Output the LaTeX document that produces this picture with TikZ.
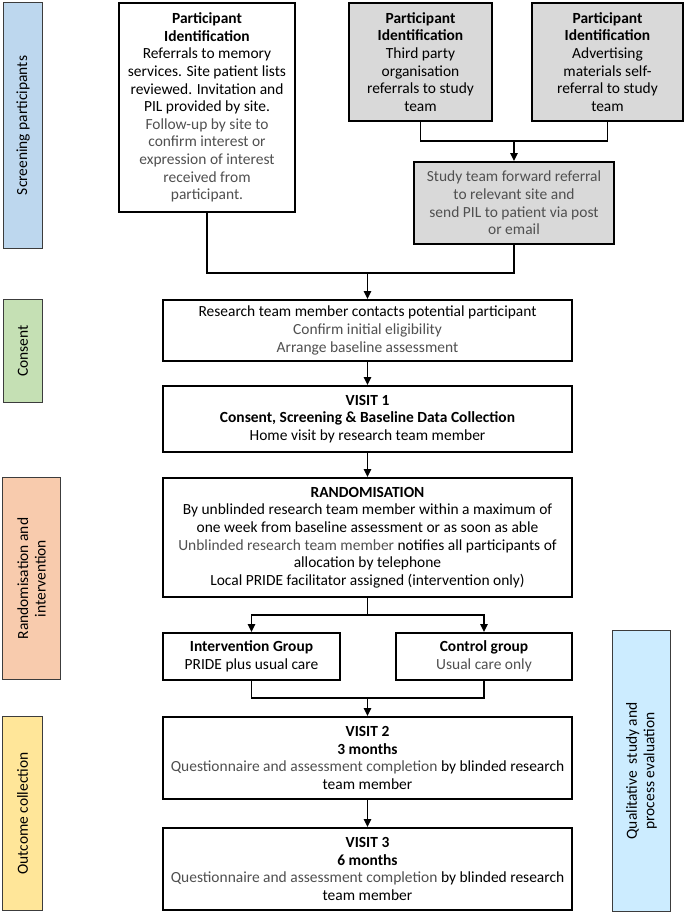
\documentclass[tikz,border=0pt]{standalone}
\usepackage{fontspec}
\setmainfont{Carlito}
\usepackage{xcolor}
\definecolor{scrblue}{RGB}{189,215,238}
\definecolor{cnsgreen}{RGB}{197,224,180}
\definecolor{rndpeach}{RGB}{248,203,173}
\definecolor{outyellow}{RGB}{255,230,153}
\definecolor{qualblue}{RGB}{204,236,255}
\definecolor{boxgrey}{RGB}{217,217,217}
\definecolor{txtgrey}{RGB}{80,80,80}
\definecolor{bardark}{RGB}{60,60,60}
\usepackage{tikz}
\usetikzlibrary{arrows.meta,positioning,calc}
\newcommand{\gr}[1]{\textcolor{txtgrey}{#1}}
\tikzset{
	box/.style    = {rectangle,draw=black,line width=1.5pt,fill=white,
		align=center,inner sep=2pt,
		font=\fontsize{11.6}{13.2}\selectfont},
	gbox/.style   = {box,fill=boxgrey},
	bar/.style    = {rectangle,draw=bardark,line width=1pt,rotate=90,
		align=center,inner sep=2pt,
		font=\fontsize{11.6}{13.2}\selectfont},
	line/.style   = {line width=1.1pt,black},
	arr/.style    = {line,-{Triangle[width=5.5pt,length=6pt]}},
}

\begin{document}
\begin{tikzpicture}[x=0.75pt,y=-0.75pt]
	\useasboundingbox (0,0) rectangle (685,914);
	
	%% Identification
	\node (idsite) [box,anchor=north west,minimum width=132pt,minimum height=156.75pt]
	at (118,2)
	{\textbf{Participant}\\\textbf{Identification}\\Referrals to memory\\
		services. Site patient lists\\reviewed. Invitation and\\PIL provided by site.\\
		\gr{Follow-up by site to}\\\gr{confirm interest or}\\\gr{expression of interest}\\
		\gr{received from}\\\gr{participant.}};
	\node (idthird) [gbox,right=39pt of idsite.north east,anchor=north west,
	minimum width=107.25pt,minimum height=88.5pt]
	{\textbf{Participant}\\\textbf{Identification}\\Third party\\organisation\\
		referrals to study\\team};
	\node (idadvert)[gbox,right=28.5pt of idthird.north east,anchor=north west,
	minimum width=113.25pt,minimum height=88.5pt]
	{\textbf{Participant}\\\textbf{Identification}\\Advertising\\materials self-\\
		referral to study\\team};
	\node (fwd) [gbox,below=29.25pt of $(idthird.south)!0.5!(idadvert.south)$,
	minimum width=150pt,minimum height=61.5pt]
	{\gr{Study team forward referral}\\\gr{to relevant site and}\\
		\gr{send PIL to patient via post}\\\gr{or email}};
	
	%% Consent
	\node (consent) [box,anchor=north,minimum width=306.75pt,minimum height=45.75pt]
	at (367.5,299)
	{Research team member contacts potential participant\\
		\gr{Confirm initial eligibility}\\\gr{Arrange baseline assessment}};
	\node (visit1) [box,below=17.25pt of consent,minimum width=306.75pt,minimum height=49.5pt]
	{\textbf{VISIT 1}\\\textbf{Consent, Screening \& Baseline Data Collection}\\
		Home visit by research team member};
	
	%% Randomisation
	\node (rand) [box,below=18pt of visit1,minimum width=306.75pt,minimum height=89.25pt]
	{\textbf{RANDOMISATION}\\
		By unblinded research team member within a maximum of\\
		one week from baseline assessment or as soon as able\\
		\gr{Unblinded research team member} notifies all participants of\\
		allocation by telephone\\
		Local PRIDE facilitator assigned (intervention only)};
	\node (interv) [box,below=25.5pt of rand.south west,anchor=north west,
	minimum width=132.75pt,minimum height=35.25pt]
	{\textbf{Intervention Group}\\PRIDE plus usual care};
	\node (control)[box,below=25.5pt of rand.south east,anchor=north east,
	minimum width=132pt,minimum height=35.25pt]
	{\textbf{Control group}\\\gr{Usual care only}};
	
	%% Outcome
	\node (visit2) [box,below=26.25pt of interv.south west,anchor=north west,
	minimum width=306.75pt,minimum height=61.5pt]
	{\textbf{VISIT 2}\\\textbf{3 months}\\
		\gr{Questionnaire and assessment completion} by blinded research\\team member};
	\node (visit3) [box,below=20.25pt of visit2,minimum width=306.75pt,minimum height=61.5pt]
	{\textbf{VISIT 3}\\\textbf{6 months}\\
		\gr{Questionnaire and assessment completion} by blinded research\\team member};
	
	%% Bandeaux
	\node (barscreen)[bar,fill=scrblue,minimum width=184.25pt,minimum height=29pt]
	at (23,125.5) {Screening participants};
	\node (barconsent)[bar,fill=cnsgreen,minimum width=77pt,minimum height=29pt]
	at (23,351) {Consent};
	\node (barrand)[bar,fill=rndpeach,minimum width=151.25pt,minimum height=43.25pt]
	at (31.5,578.5) {Randomisation and\\intervention};
	\node (barout)[bar,fill=outyellow,minimum width=145.25pt,minimum height=29.75pt]
	at (22.5,813.5) {Outcome collection};
	\node (barqual)[bar,fill=qualblue,minimum width=210.5pt,minimum height=43.25pt]
	at (641.5,771) {Qualitative\ \ study and\\process evaluation};
	
	%% Fleches
	\coordinate[above=15pt of fwd.north] (mrgid);
	\coordinate[above=19.5pt of consent.north] (mrgtop);
	\coordinate[below=12.75pt of rand.south] (split);
	\coordinate[above=13.5pt of visit2.north] (mrgbot);
	\draw[line](idthird.south)|-(mrgid)-|(idadvert.south);
	\draw[arr](mrgid)--(fwd);
	\draw[line](idsite.south)|-(mrgtop)-|(fwd.south);
	\draw[arr](mrgtop)--(consent);
	\draw[arr](consent)--(visit1);
	\draw[arr](visit1)--(rand);
	\draw[line](rand)--(split);
	\draw[arr](split)-|(interv);
	\draw[arr](split)-|(control);
	\draw[line](interv)|-(mrgbot)-|(control);
	\draw[arr](mrgbot)--(visit2);
	\draw[arr](visit2)--(visit3);
\end{tikzpicture}
\end{document}
